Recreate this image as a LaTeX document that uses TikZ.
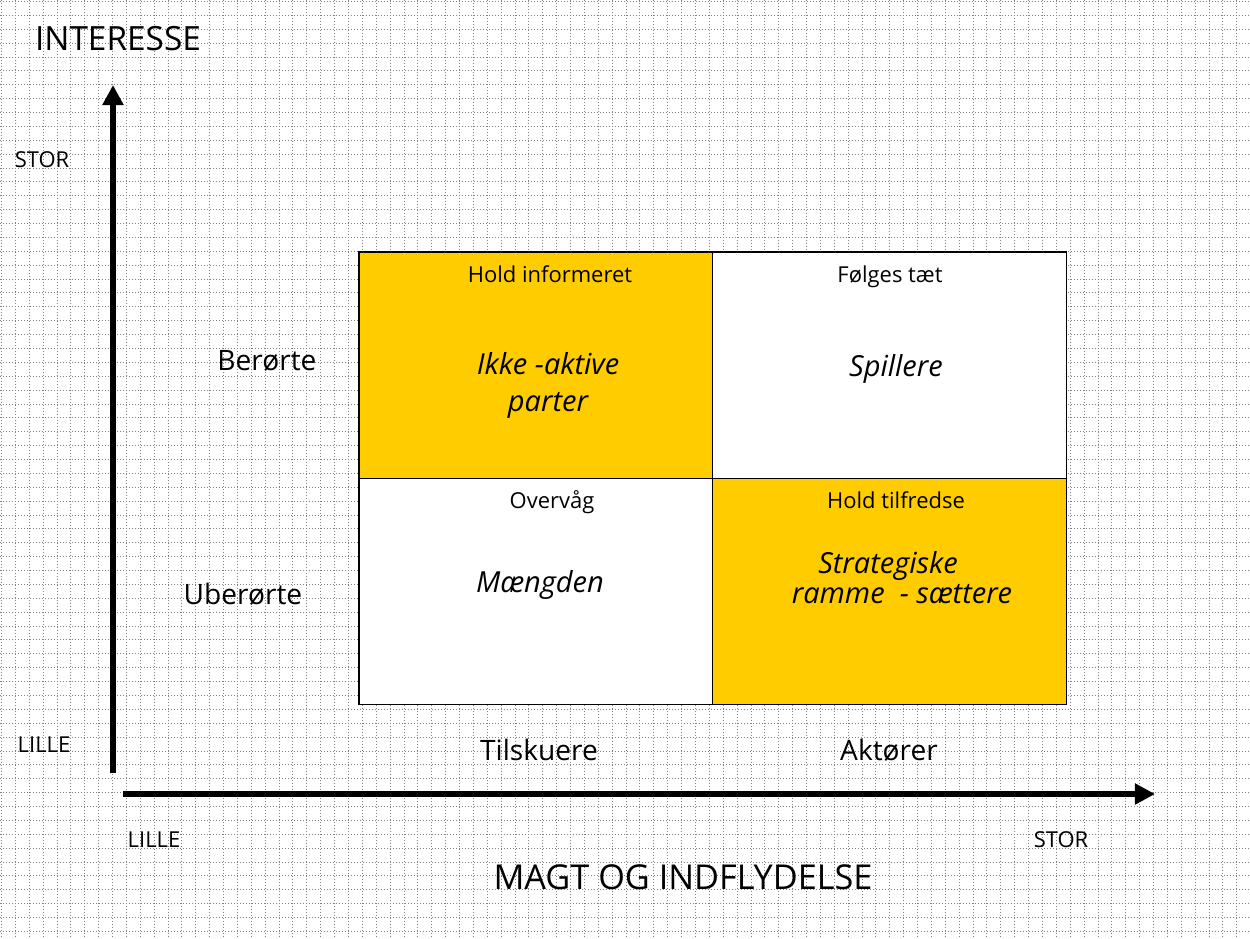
\documentclass[tikz,border=0pt]{standalone}
\usepackage{fontspec}
\setmainfont{Open Sans}
\usepackage{tikz}
\usetikzlibrary{arrows.meta, positioning}
\definecolor{gul}{HTML}{FFCC00}
\definecolor{prik}{HTML}{808080}

\begin{document}
\begin{tikzpicture}[x=0.02cm, y=-0.02cm, >={Triangle[length=11.4pt,width=11.4pt]},
    gitter/.style={prik, line width=0.569pt, dash pattern=on 0.569pt off 1.138pt},
    akse/.style={->, line width=3.4pt},
    felt/.style={draw, line width=0.6pt, minimum width=7.08cm, minimum height=4.53cm, inner sep=0pt, outer sep=0pt, anchor=north west},
    titel/.style={anchor=base, font=\fontsize{19}{22}\selectfont},
    niveau/.style={anchor=base, font=\fontsize{12.5}{15}\selectfont},
    gruppe/.style={anchor=base, font=\fontsize{16}{19}\selectfont},
    hoved/.style={anchor=base, font=\fontsize{12.5}{15}\selectfont},
    rolle/.style={font=\fontsize{16.5}{21}\selectfont\itshape, align=center}
]
    \useasboundingbox (0,0) rectangle (1250,938);
    % prikket baggrund
    \foreach \i in {0,...,89}
        \draw[gitter] ({round(13.88*\i)+1.5},0) -- ({round(13.88*\i)+1.5},938);
    \foreach \j in {0,...,67}
        \draw[gitter] (0,{round(13.88*\j)+1.5}) -- (1250,{round(13.88*\j)+1.5});

    % felter
    \node[felt, fill=gul] (hi) at (359,252) {};
    \node[felt, fill=white, right=0pt of hi] (ft) {};
    \node[felt, fill=white, below=0pt of hi] (ov) {};
    \node[felt, fill=gul, right=0pt of ov] (ht) {};

    \node[hoved] (hinf) at (550,282) {Hold informeret};
    \node[hoved] (ftaet) at (890,282) {Følges tæt};
    \node[hoved] (ovaag) at (552,508) {Overvåg};
    \node[hoved] (htilf) at (896,508) {Hold tilfredse};

    \node[rolle] (ikke) at (548,385) {Ikke -aktive\\parter};
    \node[rolle, anchor=base] (spil) at (896,376) {Spillere};
    \node[rolle, anchor=base] (maeng) at (540,592) {Mængden};
    \node[rolle, anchor=base] (strat) at (888,573) {Strategiske};
    \node[rolle, anchor=base] (ramme) at (902,603) {ramme \ - sættere};

    % akser
    \coordinate (yfod) at (113,773);
    \coordinate (ytop) at (113,85);
    \coordinate (xfod) at (123,794);
    \coordinate (xtop) at (1155,794);
    \draw[akse] (yfod) -- (ytop);
    \draw[akse] (xfod) -- (xtop);

    \node[titel] (interesse) at (118,50) {INTERESSE};
    \node[titel, font=\fontsize{19.5}{22}\selectfont] (magt) at (683,889) {MAGT OG INDFLYDELSE};
    \node[niveau] (ystor) at (42,167) {STOR};
    \node[niveau] (ylille) at (44,752) {LILLE};
    \node[niveau] (xlille) at (154,847) {LILLE};
    \node[niveau] (xstor) at (1061,847) {STOR};

    \node[gruppe] (berorte) at (267,370) {Berørte};
    \node[gruppe] (uberorte) at (243,604) {Uberørte};
    \node[gruppe] (tilsk) at (539,760) {Tilskuere};
    \node[gruppe] (aktor) at (889,760) {Aktører};
\end{tikzpicture}
\end{document}
